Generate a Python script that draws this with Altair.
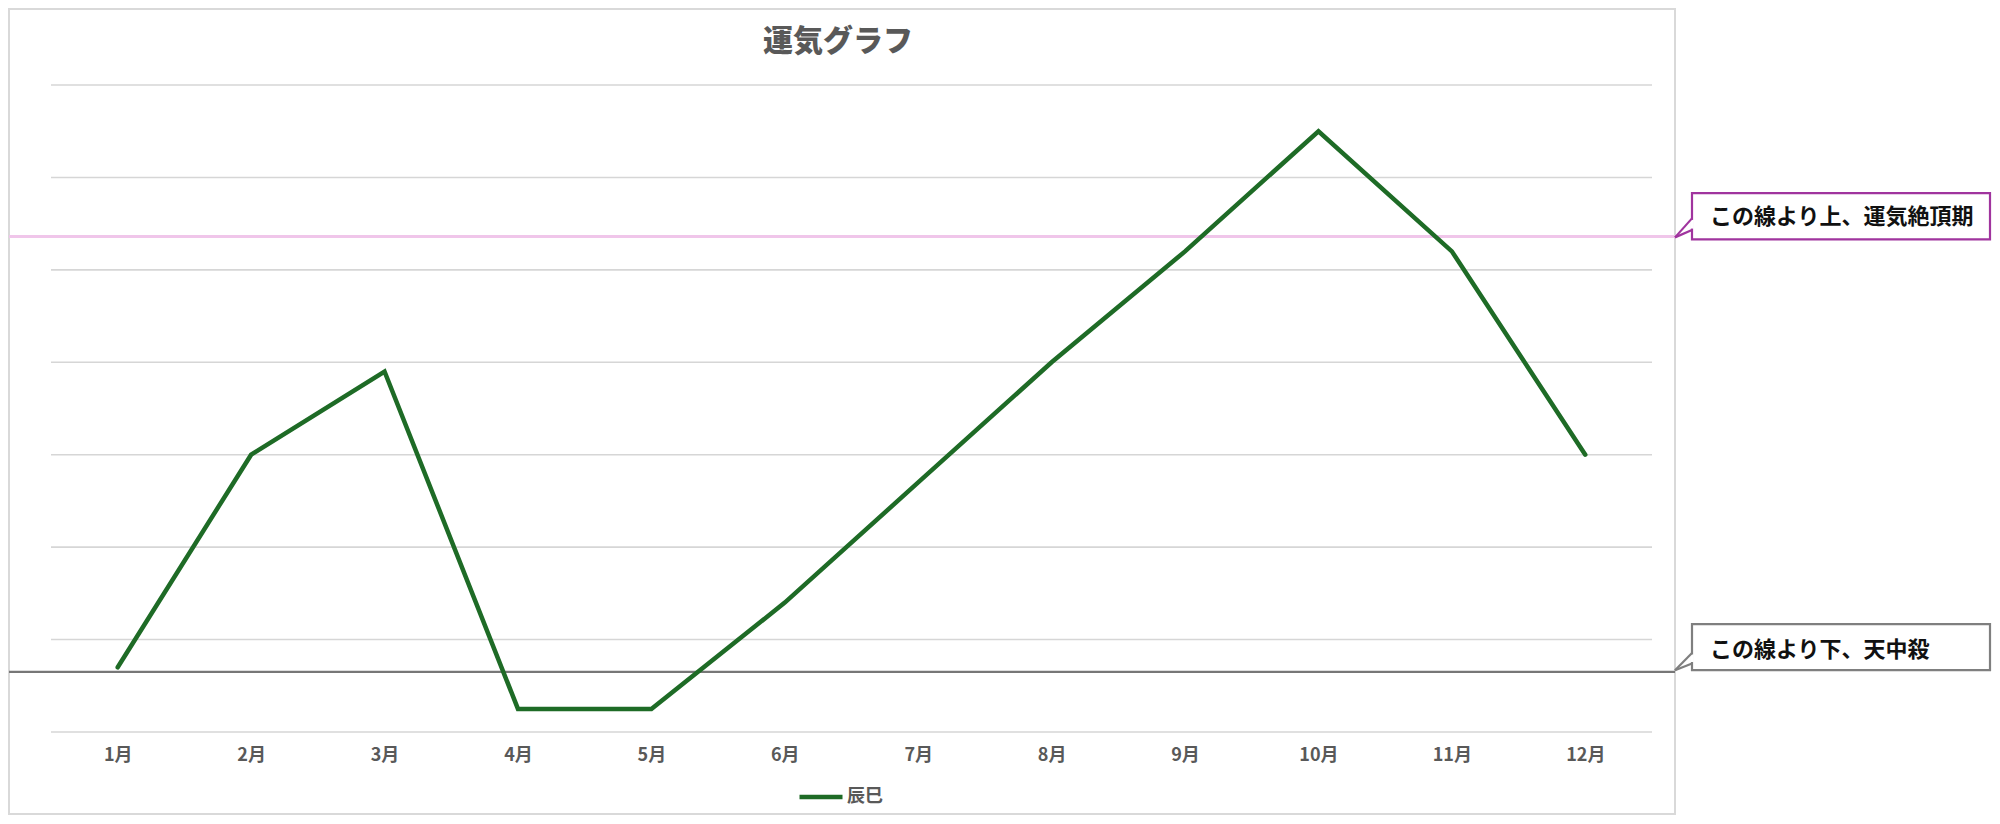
import altair as alt
import pandas as pd

# ---- data ----
months = ["1月", "2月", "3月", "4月", "5月", "6月", "7月", "8月", "9月", "10月", "11月", "12月"]
fortune = [7, 30, 39, 2.5, 2.5, 14, 27, 40, 52, 65, 52, 30]
series_name = "辰巳"
grid_values = [0, 10, 20, 30, 40, 50, 60, 70]
peak_level = 53.6
peak_label = "この線より上、運気絶頂期"
low_level = 6.5
low_label = "この線より下、天中殺"
title_text = "運気グラフ"

# ---- layout / style ----
FONT = "Noto Sans CJK JP"
GREEN = "#1e6b26"
PINK = "#f0c6ea"
PURPLE = "#a0349e"
GRAYLINE = "#777777"
W, H = 1601, 647
PAD_L, PAD_T = 43, 77
SVG_W, SVG_H = 1984, 808

df = pd.DataFrame({"month": months, "value": fortune, "series": series_name})
grid_df = pd.DataFrame({"g": grid_values})
one = pd.DataFrame({"k": [0]})

y_scale = alt.Scale(domain=[0, 70], nice=False, zero=False)
y_axis = alt.Axis(title=None, labels=False, ticks=False, domain=False, grid=False)

grid = alt.Chart(grid_df).mark_rule(color="#d6d6d6", strokeWidth=1.6).encode(
    y=alt.Y("g:Q", scale=y_scale, axis=y_axis)
)

line = alt.Chart(df).mark_line(strokeWidth=4.5, strokeCap="round").encode(
    x=alt.X(
        "month:N",
        sort=months,
        scale=alt.Scale(type="point", padding=0.5),
        axis=alt.Axis(title=None, labelAngle=0, labelFontSize=18, labelFontWeight="bold",
                      labelColor="#595959", labelFont=FONT, ticks=False, domain=False,
                      grid=False, labelPadding=14),
    ),
    y=alt.Y("value:Q", scale=y_scale, axis=y_axis),
    color=alt.Color(
        "series:N",
        scale=alt.Scale(domain=[series_name], range=[GREEN]),
        legend=alt.Legend(title=None, orient="none", legendX=746, legendY=688,
                          symbolType="stroke", symbolSize=1849, symbolStrokeWidth=4.5,
                          labelFontSize=18, labelFontWeight="bold", labelColor="#595959",
                          labelFont=FONT, padding=0, labelOffset=2),
    ),
)

frame = alt.Chart(one).mark_rect(fillOpacity=0, stroke="#d9d9d9", strokeWidth=2).encode(
    x=alt.value(-42), x2=alt.value(1624), y=alt.value(-76), y2=alt.value(729)
)

title = alt.Chart(one).mark_text(text=title_text, font=FONT, fontSize=30, fontWeight=900,
                                 color="#595959", align="center", baseline="middle").encode(
    x=alt.value(787), y=alt.value(-43)
)

def ref_line(level, color, width):
    return alt.Chart(one).mark_rule(color=color, strokeWidth=width).encode(
        x=alt.value(-42), x2=alt.value(1624), y=alt.datum(level)
    )

def callout(level, label, color, top_off, bot_off, a_off, t_off, b_off, text_off):
    box = alt.Chart(one).mark_rect(fill="white", stroke=color, strokeWidth=2.2,
                                   yOffset=top_off, y2Offset=bot_off).encode(
        x=alt.value(1641), x2=alt.value(1939), y=alt.datum(level), y2=alt.datum(level)
    )
    cover = alt.Chart(one).mark_rule(color="white", strokeWidth=3.5,
                                     yOffset=a_off + 1.5, y2Offset=b_off - 1.5).encode(
        x=alt.value(1641), y=alt.datum(level), y2=alt.datum(level)
    )
    leg1 = alt.Chart(one).mark_rule(color=color, strokeWidth=2.2,
                                    yOffset=t_off, y2Offset=a_off).encode(
        x=alt.value(1624), x2=alt.value(1641), y=alt.datum(level), y2=alt.datum(level)
    )
    leg2 = alt.Chart(one).mark_rule(color=color, strokeWidth=2.2,
                                    yOffset=t_off, y2Offset=b_off).encode(
        x=alt.value(1624), x2=alt.value(1641), y=alt.datum(level), y2=alt.datum(level)
    )
    txt = alt.Chart(one).mark_text(text=label, font=FONT, fontSize=22, fontWeight="bold",
                                   color="#111111", align="left", baseline="middle",
                                   yOffset=text_off).encode(
        x=alt.value(1659), y=alt.datum(level)
    )
    return [box, cover, leg1, leg2, txt]

layers = [frame, grid,
          ref_line(peak_level, PINK, 3),
          ref_line(low_level, GRAYLINE, 2.4),
          line]
layers += callout(peak_level, peak_label, PURPLE, -43.5, 2.8, -18.2, 0.8, -6.5, -19.2)
layers += callout(low_level, low_label, "#7f7f7f", -47.7, -1.7, -19, -1.7, -8.4, -21.7)
layers += [title]

chart = alt.layer(*layers).properties(
    width=W,
    height=H,
    autosize=alt.AutoSizeParams(type="none"),
    padding={"left": PAD_L, "top": PAD_T, "right": SVG_W - PAD_L - W, "bottom": SVG_H - PAD_T - H},
).configure_view(stroke=None)

chart.save("out.html", embed_options={"renderer": "svg", "actions": False})
